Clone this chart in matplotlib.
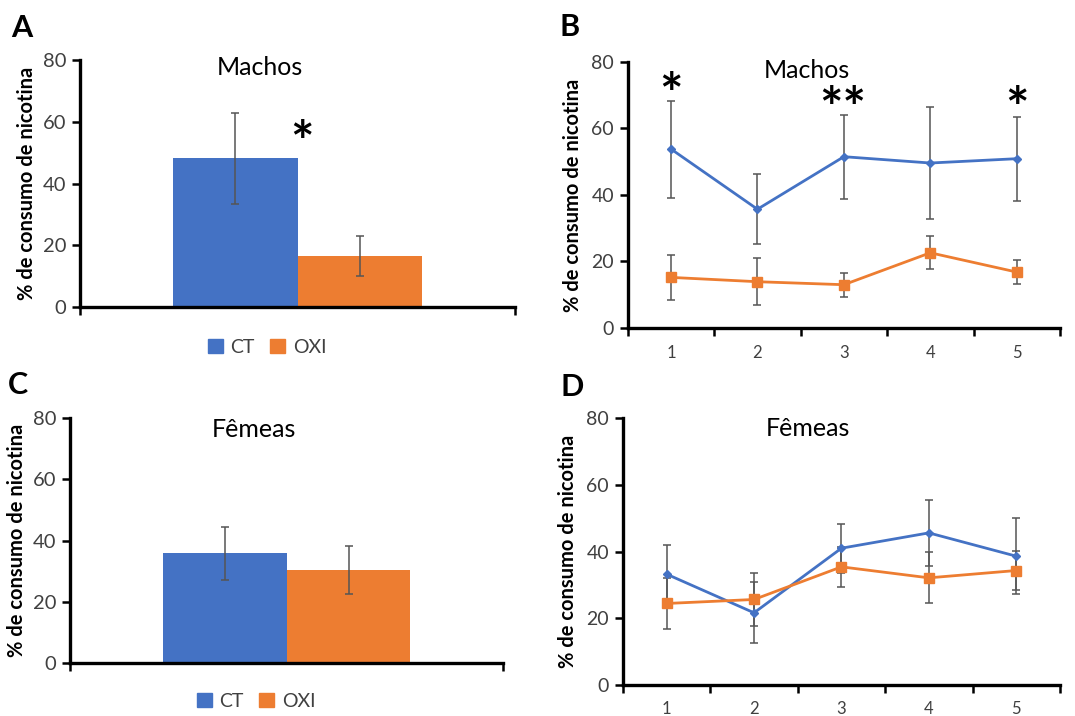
import numpy as np
import matplotlib.pyplot as plt
from matplotlib.patches import Patch
from matplotlib.ticker import FixedLocator

plt.rcParams["font.family"] = ["Lato", "DejaVu Sans"]

# bar panels (A: machos, C: femeas)
groups = ["CT", "OXI"]
machos_bar = [48.2, 16.5]
machos_bar_err = [14.7, 6.6]
femeas_bar = [35.8, 30.4]
femeas_bar_err = [8.7, 7.8]

# line panels (B: machos, D: femeas), sessions 1..5
sessions = [1, 2, 3, 4, 5]
machos_ct = [53.8, 35.7, 51.5, 49.6, 50.9]
machos_ct_err = [14.6, 10.6, 12.6, 16.8, 12.6]
machos_oxi = [15.2, 13.9, 13.0, 22.6, 16.8]
machos_oxi_err = [6.8, 7.0, 3.6, 5.0, 3.5]
femeas_ct = [33.2, 21.6, 41.0, 45.6, 38.6]
femeas_ct_err = [8.8, 9.2, 7.4, 9.8, 11.5]
femeas_oxi = [24.4, 25.6, 35.4, 32.1, 34.3]
femeas_oxi_err = [7.8, 8.0, 6.0, 7.7, 5.8]

# significance marks: (x, y, label)
sig_bar_machos = [(0.01, 57.0, "*")]
sig_line_machos = [(1, 73.7, "*"), (2.99, 69.5, "**"), (5, 69.5, "*")]

yticks = [0, 20, 40, 60, 80]
ylabel = "% de consumo de nicotina"

BLUE = "#4472C4"
ORANGE = "#ED7D31"
ERR = "#555555"
TICKC = "#404040"


def style_axes(ax, tick_size, pad):
    for s in ["top", "right"]:
        ax.spines[s].set_visible(False)
    for s in ["left", "bottom"]:
        ax.spines[s].set_linewidth(2.4)
        ax.spines[s].set_color("black")
    ax.set_ylim(0, 80)
    ax.set_yticks(yticks)
    ax.tick_params(axis="y", direction="out", length=6, width=1.8, labelsize=tick_size,
                   labelcolor=TICKC, pad=4)
    ax.set_ylabel(ylabel, fontsize=14.5, fontweight="bold", labelpad=pad)


def add_sig(ax, sig):
    # asterisk glyph sits high in its box, so nudge it down
    for x, y, s in sig:
        ax.annotate(s, (x, y), xytext=(0, -10), textcoords="offset points",
                    ha="center", va="center", fontsize=40, fontweight="bold")


def bar_panel(ax, vals, errs, title, tpos, sig, leg_y):
    w = 0.286
    xs = [-w / 2, w / 2]
    ax.bar(xs, vals, width=w, color=[BLUE, ORANGE], edgecolor="none",
           yerr=errs, error_kw=dict(ecolor=ERR, elinewidth=1.1, capsize=3, capthick=1.1))
    ax.set_xlim(-0.5, 0.5)
    ax.set_xticks([-0.5, 0.5])
    ax.set_xticklabels([])
    ax.tick_params(axis="x", direction="out", length=6, width=1.8)
    style_axes(ax, 14.5, 4)
    ax.text(tpos[0], tpos[1], title, transform=ax.transAxes, ha="center", va="center",
            fontsize=18, color="black")
    add_sig(ax, sig)
    handles = [Patch(color=BLUE, label=groups[0]), Patch(color=ORANGE, label=groups[1])]
    ax.legend(handles=handles, loc="center", bbox_to_anchor=(0.43, leg_y), ncols=2,
              frameon=False, fontsize=14, handlelength=0.75, handleheight=0.75,
              handletextpad=0.4, columnspacing=0.8, labelcolor=TICKC)


def line_panel(ax, ct, ct_err, oxi, oxi_err, title, tpos, sig):
    ek = dict(ecolor=ERR, elinewidth=1.1, capsize=3, capthick=1.1)
    ax.errorbar(sessions, ct, yerr=ct_err, color=BLUE, lw=2, marker="D", ms=4.5, **ek)
    ax.errorbar(sessions, oxi, yerr=oxi_err, color=ORANGE, lw=2, marker="s", ms=7, **ek)
    ax.set_xlim(0.5, 5.5)
    ax.set_xticks(sessions)
    ax.tick_params(axis="x", length=0, labelsize=12, labelcolor=TICKC, pad=12)
    ax.xaxis.set_minor_locator(FixedLocator(np.arange(0.5, 6, 1)))
    ax.tick_params(axis="x", which="minor", direction="out", length=6, width=1.8)
    style_axes(ax, 14, 6)
    ax.text(tpos[0], tpos[1], title, transform=ax.transAxes, ha="center", va="center",
            fontsize=18, color="black")
    add_sig(ax, sig)


fig = plt.figure(figsize=(10.75, 7.16), dpi=100)
axA = fig.add_axes([0.0744, 0.5712, 0.4047, 0.345])
axB = fig.add_axes([0.584, 0.542, 0.402, 0.3715])
axC = fig.add_axes([0.0651, 0.0736, 0.403, 0.343])
axD = fig.add_axes([0.5795, 0.0437, 0.4065, 0.372])

bar_panel(axA, machos_bar, machos_bar_err, "Machos", (0.414, 0.968), sig_bar_machos, -0.162)
bar_panel(axC, femeas_bar, femeas_bar_err, "Fêmeas", (0.425, 0.953), [], -0.156)
line_panel(axB, machos_ct, machos_ct_err, machos_oxi, machos_oxi_err, "Machos",
           (0.414, 0.966), sig_line_machos)
line_panel(axD, femeas_ct, femeas_ct_err, femeas_oxi, femeas_oxi_err, "Fêmeas",
           (0.423, 0.962), [])

for lab, (x, y) in zip("ABCD", [(22, 28), (570, 27), (18, 385), (572, 387)]):
    fig.text(x / 1075, 1 - y / 716, lab, ha="center", va="center", fontsize=22,
             fontweight="bold")

fig.savefig("out.png", dpi=100)
